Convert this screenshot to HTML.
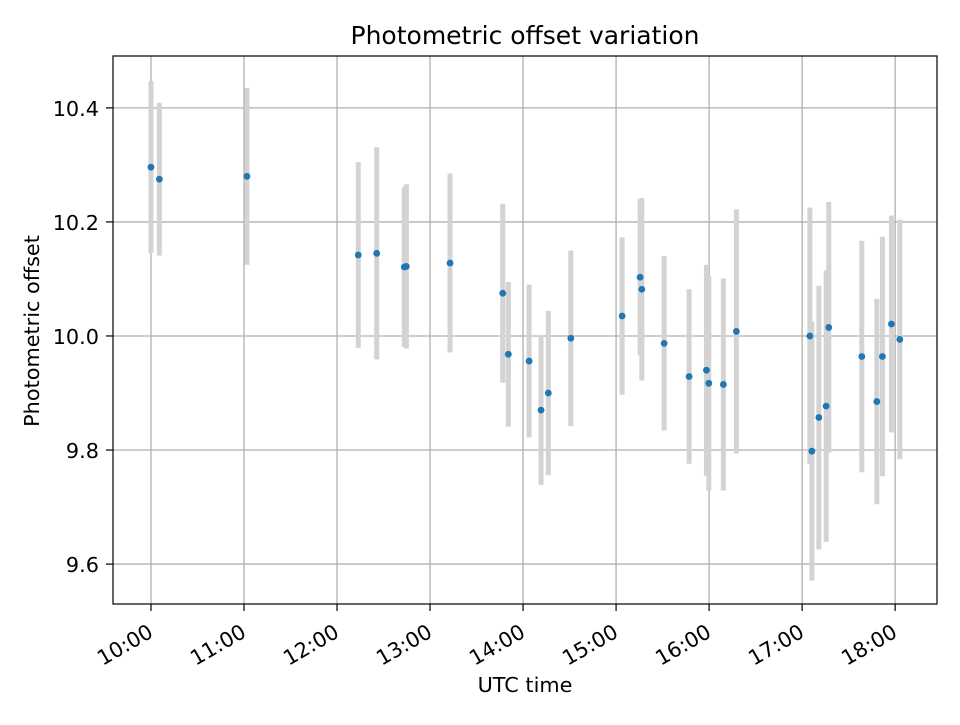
<!DOCTYPE html>
<html><head><meta charset="utf-8"><style>
body{margin:0;background:#fff}
svg{font-family:"DejaVu Sans","Liberation Sans",sans-serif}
</style></head><body>
<svg id="chart" width="960" height="720" viewBox="0 0 960 720">
<rect width="960" height="720" fill="#fff"/>
<g id="grid"></g>
<g id="bars"></g>
<g id="pts"></g>
<rect x="113" y="56" width="824" height="548" fill="none" stroke="#000" stroke-width="1.2"/>
<g id="axes"></g>
<text x="525" y="44" text-anchor="middle" font-size="25">Photometric offset variation</text>
<text x="525" y="692" text-anchor="middle" font-size="20.8">UTC time</text>
<text transform="translate(39,331) rotate(-90)" text-anchor="middle" font-size="20.8">Photometric offset</text>
</svg>
<script>
// minutes after 10:00 UTC
const times = [0,5.4,61.9,133.7,145.6,163.4,164.7,192.9,226.9,230.5,243.9,251.6,256.3,270.8,303.9,315.5,316.6,331,347.1,358.3,359.8,369.2,377.6,425,426.3,430.8,435.5,437.2,458.5,468.2,471.8,477.6,483];
const offsets = [10.296,10.275,10.280,10.142,10.145,10.121,10.122,10.128,10.075,9.968,9.956,9.870,9.900,9.996,10.035,10.103,10.082,9.987,9.929,9.940,9.917,9.915,10.008,10.000,9.798,9.857,9.877,10.015,9.964,9.885,9.964,10.021,9.994];
const errors = [0.151,0.134,0.155,0.163,0.186,0.140,0.144,0.157,0.157,0.127,0.134,0.131,0.144,0.154,0.138,0.137,0.160,0.153,0.153,0.185,0.188,0.186,0.214,0.225,0.227,0.231,0.238,0.220,0.203,0.180,0.210,0.190,0.210];
const xTicks = [0,60,120,180,240,300,360,420,480];
const xTickLabels = ["10:00","11:00","12:00","13:00","14:00","15:00","16:00","17:00","18:00"];
const yTicks = [9.6,9.8,10.0,10.2,10.4];
const yTickLabels = ["9.6","9.8","10.0","10.2","10.4"];

const X0=113,X1=937,Y0=56,Y1=604;
const xMin=-24.5,xMax=507,yMin=9.530,yMax=10.491;
const sx=v=>X0+(v-xMin)/(xMax-xMin)*(X1-X0);
const sy=v=>Y1-(v-yMin)/(yMax-yMin)*(Y1-Y0);
const NS="http://www.w3.org/2000/svg";
function mk(tag,attrs,parent){const e=document.createElementNS(NS,tag);for(const k in attrs)e.setAttribute(k,attrs[k]);parent.appendChild(e);return e;}
const grid=document.getElementById('grid'),bars=document.getElementById('bars'),pts=document.getElementById('pts'),axes=document.getElementById('axes');
xTicks.forEach((t,i)=>{
  const x=sx(t);
  const g=mk('line',{x1:x,x2:x,y1:Y0,y2:Y1,stroke:'#b0b0b0','stroke-width':1.3},grid);
  
  
  const tk=mk('line',{x1:x,x2:x,y1:Y1,y2:Y1+7,stroke:'#000','stroke-width':1.2},axes);
  
  
  const tx=mk('text',{'font-size':20.8,'text-anchor':'end',transform:`translate(${x+3.5},${Y1+32}) rotate(-30)`},axes);
  tx.textContent=xTickLabels[i];
  
  
});
yTicks.forEach((v,i)=>{
  const y=sy(v);
  const g=mk('line',{x1:X0,x2:X1,y1:y,y2:y,stroke:'#b0b0b0','stroke-width':1.3},grid);
  
  
  const tk=mk('line',{x1:X0-7,x2:X0,y1:y,y2:y,stroke:'#000','stroke-width':1.2},axes);
  
  
  const tx=mk('text',{x:X0-14,y:y+8,'font-size':20.8,'text-anchor':'end'},axes);
  tx.textContent=yTickLabels[i];
  
  
});
times.forEach((t,i)=>{
  const x=sx(t);
  const b=mk('line',{x1:x,x2:x,y1:sy(offsets[i]+errors[i]),y2:sy(offsets[i]-errors[i]),stroke:'#d3d3d3','stroke-width':5},bars);
  
  
});
times.forEach((t,i)=>{
  const c=mk('circle',{cx:sx(t),cy:sy(offsets[i]),r:3.4,fill:'#1f77b4'},pts);
  
  
});
</script>
</body></html>
